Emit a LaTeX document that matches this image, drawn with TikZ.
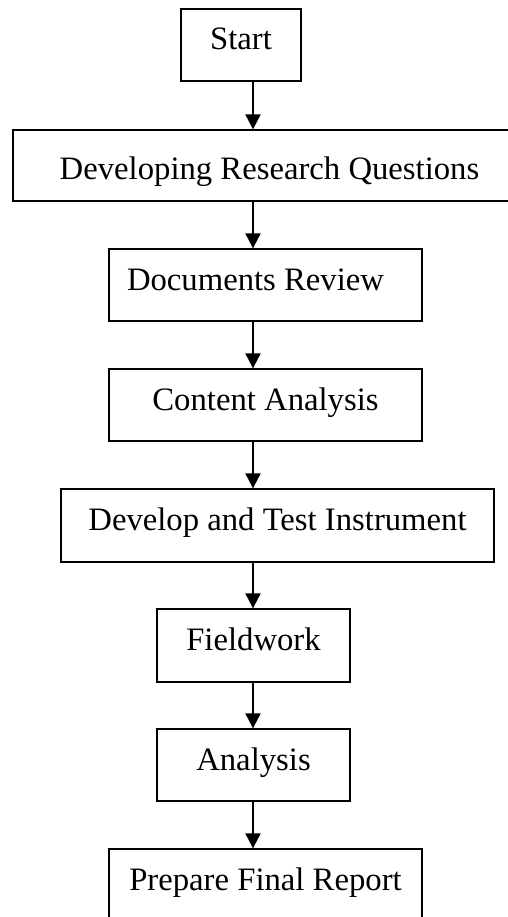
\documentclass[tikz,border=0pt]{standalone}
\usepackage{fontspec}
\setmainfont{Liberation Serif}
\usetikzlibrary{arrows.meta}

\begin{document}
\begin{tikzpicture}[
  x=1pt, y=-1pt,
  every node/.style = {align=center, font=\fontsize{32.7}{36}\selectfont},
  stepbox/.style = {draw, line width=1.3pt, rectangle, inner sep=0pt,
    text height=18pt, text depth=8pt, minimum height=72pt},
  >={Triangle[length=15pt, width=15pt]}
]
  \useasboundingbox (0,0) rectangle (507,917);
  \coordinate (axis) at (253,0);
  \node[stepbox, minimum width=120pt] (start) at (241,45) {Start};
  \node[stepbox, minimum width=513pt, minimum height=71pt, text height=37pt, text depth=8pt]
    (questions) at (269.5,165.5) {Developing Research Questions};
  \node[stepbox, minimum width=313pt] (review) at (265.5,285) {Documents Review\hspace{20pt}};
  \node[stepbox, minimum width=313pt] (content) at (265.5,405) {Content Analysis};
  \node[stepbox, minimum width=433pt, minimum height=73pt] (instrument) at (277.5,525.5) {Develop and Test Instrument};
  \node[stepbox, minimum width=193pt, minimum height=73pt] (fieldwork) at (253.5,645.5) {Fieldwork};
  \node[stepbox, minimum width=193pt] (analysis) at (253.5,765) {Analysis};
  \node[stepbox, minimum width=313pt] (report) at (265.5,885) {Prepare Final Report};
  % arrows along one vertical axis
  \foreach \a/\b in {start/questions, questions/review, review/content, content/instrument,
                     instrument/fieldwork, fieldwork/analysis, analysis/report}
    \draw[->, line width=2pt] (\a.south -| axis) -- (\b.north -| axis);
\end{tikzpicture}
\end{document}
